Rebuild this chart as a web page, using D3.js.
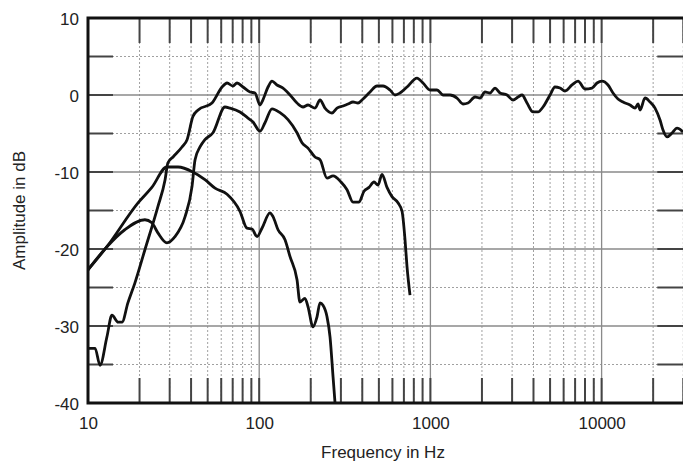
<!DOCTYPE html>
<html>
<head>
<meta charset="utf-8">
<script src="https://cdn.jsdelivr.net/npm/d3@7"></script>
<style>
  body { margin: 0; background: #fff; }
  text { font-family: "Liberation Sans", Arial, Helvetica, sans-serif; }
</style>
</head>
<body>
<div id="chart"></div>
<script>
// frequency (Hz) and amplitude (dB)
var completeFreq = [10, 11, 11.75, 12.9, 13.8, 15, 15.8, 17.1, 18.8, 21.5, 25.6, 28.2, 29.3, 31.4, 35.4, 37.9, 41, 44, 53, 60.7, 64.9, 70.2,
    74.2, 80.4, 88.4, 94.5, 101, 105, 112.6, 118.8, 127, 137.7, 151.4, 166.3, 180.3, 192.8, 211.8, 226.6, 242.3, 266.2, 284.7, 308.7, 330.1,
    353.1, 377.7, 403.9, 444, 487.6, 528.6, 580.7, 621.1, 664.3, 730, 835, 905, 995, 1093, 1185, 1302, 1430, 1550, 1658, 1822, 1949,
    2084, 2229, 2384, 2550, 2802, 3038, 3249, 3428, 3667, 3975, 4252, 4547, 4995, 5342, 5715, 6112, 6715, 7280, 7998, 8787, 9399,
    10053, 10899, 11656, 12466, 13335, 14656, 15674, 16318, 16763, 17930, 19176, 20510, 21937, 22840, 24100, 25780, 27570, 29890];
var completeDb = [-32.9, -32.9, -35.1, -31.4, -28.6, -29.5, -29.5, -27, -24.4, -20.1, -14.5, -11, -8.8, -8.05, -6.75, -5.8, -2.8, -1.95, -1.04, 1.04, 1.56, 1.17,
    1.56, 1.04, 0.39, 0.26, -1.3, -0.65, 1.04, 1.8, 1.3, 0.9, 0, -1.04, -1.56, -1.3, -1.7, -0.65, -1.7, -2.34, -1.7, -1.43, -1.17,
    -0.91, -1.04, -0.52, 0.39, 1.17, 1.17, 0.65, 0, 0.26, 1.04, 2.2, 1.56, 0.65, 0.65, 0, 0, -0.39, -1.17, -1.04, -0.26, -0.39,
    0.39, 0.26, 0.9, 0.26, 0, -0.65, -0.26, 0, -1.04, -2.2, -2.2, -1.56, 0, 1.04, 0.9, 0.52, 1.3, 1.8, 0.78, 0.9, 1.56,
    1.8, 1.3, 0.26, -0.52, -0.91, -1.3, -1.7, -1.17, -1.95, -0.39, -0.91, -1.7, -3.25, -4.55, -5.45, -4.94, -4.3, -4.8];

var wooferFreq = [10, 12.9, 16.4, 21.5, 23.6, 25.6, 28.9, 32.2, 36.9, 40.5, 42.2, 45.1, 48.2, 53.7, 63.1, 67.5, 77.2, 86, 92, 101.1, 108.1,
    118.8, 132.3, 147.3, 166.3, 177.8, 192.8, 211.8, 226.6, 248.9, 270, 300.5, 325.8, 353.1, 382.7, 409.4, 437.9, 468.5, 494.3, 521.5,
    557.8, 596.6, 646.4, 682.6, 710.8, 730, 760];
var wooferDb = [-22.7, -19.7, -17.5, -16.2, -16.6, -17.9, -19.2, -18.4, -15.8, -11.9, -8.4, -6.75, -5.8, -4.9, -1.56, -1.7, -2.2, -3, -3.5, -4.7, -3.6,
    -1.8, -2.3, -3.2, -4.9, -6.2, -6.9, -8.05, -8.4, -10.8, -10.5, -11.3, -12.3, -13.9, -13.9, -12.5, -12, -11.3, -11.7, -10.3,
    -12, -13.2, -14, -15.1, -18.8, -22.3, -26];

var portFreq = [10, 12.9, 19.6, 23.6, 28.9, 33.6, 41, 48.2, 55.2, 64.9, 77.2, 84.9, 90.8, 97.1, 103.8, 115.6, 120.4, 128.8, 141.5, 151.4,
    166.3, 173, 185, 192.8, 206, 217.6, 226.6, 235.8, 248.9, 259.2, 270, 277.3];
var portDb = [-22.7, -19.7, -14, -12, -9.35, -9.35, -10, -11, -12.1, -12.9, -15.1, -17.3, -17.4, -18.4, -17.3, -15.3, -15.8, -17.5, -18.8, -21,
    -24, -26.9, -26.4, -27.5, -30.1, -28.8, -27, -27.3, -28.8, -31.4, -36.6, -40];

var xLabels = [10, 100, 1000, 10000];
var yLabels = [10, 0, -10, -20, -30, -40];
var decades = [10, 100, 1000, 10000];
var mults = [2, 3, 4, 5, 6, 7, 8, 9];

function init() {
    var w = 683;
    var h = 468;
    var left = 88, top = 18, bottom = 403;

    var x = d3.scaleLog().domain([10, 30000]).range([left, 683.3]);
    var y = d3.scaleLinear().domain([-40, 10]).range([bottom, top]);
    var right = x(30000);

    var svg = d3.select("#chart")
        .append("svg")
        .attr("width", w)
        .attr("height", h);

    // minor frequency positions
    var minor = [];
    decades.forEach(function(d) {
        mults.forEach(function(m) {
            if (d * m <= 30000) minor.push(d * m);
        });
    });
    var allTicks = minor.concat([100, 1000, 10000]);

    var grid = svg.append("g");
    // dotted lines
    grid.selectAll(".vmin")
        .data(minor)
        .enter()
        .append("line")
        .attr("x1", function(d) { return x(d); })
        .attr("x2", function(d) { return x(d); })
        .attr("y1", top)
        .attr("y2", bottom)
        .attr("stroke", "#a0a0a0")
        .attr("stroke-width", 1)
        .attr("stroke-dasharray", "2,2");

    var halfSteps = d3.range(-35, 10, 10);
    grid.selectAll(".hmin")
        .data(halfSteps)
        .enter()
        .append("line")
        .attr("x1", left)
        .attr("x2", right)
        .attr("y1", function(d) { return y(d); })
        .attr("y2", function(d) { return y(d); })
        .attr("stroke", "#a0a0a0")
        .attr("stroke-width", 1)
        .attr("stroke-dasharray", "2,2");

    // solid lines
    grid.selectAll(".vmaj")
        .data([100, 1000, 10000])
        .enter()
        .append("line")
        .attr("x1", function(d) { return x(d); })
        .attr("x2", function(d) { return x(d); })
        .attr("y1", top)
        .attr("y2", bottom)
        .attr("stroke", "#8a8a8a")
        .attr("stroke-width", 1.3);

    grid.selectAll(".hmaj")
        .data([0, -10, -20, -30])
        .enter()
        .append("line")
        .attr("x1", left)
        .attr("x2", right)
        .attr("y1", function(d) { return y(d); })
        .attr("y2", function(d) { return y(d); })
        .attr("stroke", "#8a8a8a")
        .attr("stroke-width", 1.3);

    // tick marks top and bottom
    grid.selectAll(".ttop")
        .data(allTicks)
        .enter()
        .append("line")
        .attr("x1", function(d) { return x(d); })
        .attr("x2", function(d) { return x(d); })
        .attr("y1", top)
        .attr("y2", top + 25)
        .attr("stroke", "#444")
        .attr("stroke-width", 2);
    grid.selectAll(".tbot")
        .data(allTicks)
        .enter()
        .append("line")
        .attr("x1", function(d) { return x(d); })
        .attr("x2", function(d) { return x(d); })
        .attr("y1", bottom - 25)
        .attr("y2", bottom)
        .attr("stroke", "#444")
        .attr("stroke-width", 2);

    // tick marks left and right
    var yTicks = d3.range(-35, 10, 5);
    grid.selectAll(".tl")
        .data(yTicks)
        .enter()
        .append("line")
        .attr("x1", left)
        .attr("x2", left + 25)
        .attr("y1", function(d) { return y(d); })
        .attr("y2", function(d) { return y(d); })
        .attr("stroke", "#444")
        .attr("stroke-width", 2);
    grid.selectAll(".tr")
        .data(yTicks)
        .enter()
        .append("line")
        .attr("x1", right - 26)
        .attr("x2", right)
        .attr("y1", function(d) { return y(d); })
        .attr("y2", function(d) { return y(d); })
        .attr("stroke", "#444")
        .attr("stroke-width", 2);

    // curves
    svg.append("clipPath")
        .attr("id", "clip")
        .append("rect")
        .attr("x", left)
        .attr("y", top)
        .attr("width", right - left)
        .attr("height", bottom - top);

    var line = d3.line()
        .x(function(d) { return x(d[0]); })
        .y(function(d) { return y(d[1]); })
        .curve(d3.curveMonotoneX);

    var series = [
        d3.zip(portFreq, portDb),
        d3.zip(wooferFreq, wooferDb),
        d3.zip(completeFreq, completeDb)
    ];

    svg.append("g")
        .attr("clip-path", "url(#clip)")
        .selectAll("path")
        .data(series)
        .enter()
        .append("path")
        .attr("d", line)
        .attr("fill", "none")
        .attr("stroke", "#111")
        .attr("stroke-width", 2.8)
        .attr("stroke-linejoin", "round");

    // frame
    svg.append("path")
        .attr("d", "M" + (right + 2) + "," + top + "H" + left + "V" + bottom + "H" + (right + 2))
        .attr("fill", "none")
        .attr("stroke", "#111")
        .attr("stroke-width", 3);

    // axis labels (plain hyphen for negatives, as in the original)
    var plain = function(d) { return String(d); };

    var xAxis = d3.axisBottom(x)
        .tickValues(xLabels)
        .tickFormat(plain)
        .tickSize(0)
        .tickPadding(0);
    var gx = svg.append("g")
        .attr("transform", "translate(0," + (bottom + 14) + ")")
        .call(xAxis);
    gx.select(".domain").remove();
    gx.selectAll("text")
        .attr("font-size", 17)
        .attr("font-family", "Liberation Sans, Arial, sans-serif")
        .attr("fill", "#222");

    var yAxis = d3.axisLeft(y)
        .tickValues(yLabels)
        .tickFormat(plain)
        .tickSize(0)
        .tickPadding(0);
    var gy = svg.append("g")
        .attr("transform", "translate(" + (left - 9) + ",0)")
        .call(yAxis);
    gy.select(".domain").remove();
    gy.selectAll("text")
        .attr("font-size", 17)
        .attr("font-family", "Liberation Sans, Arial, sans-serif")
        .attr("fill", "#222")
        .attr("dy", "0.4em");

    svg.append("text")
        .text("Frequency in Hz")
        .attr("x", 383)
        .attr("y", 458)
        .attr("text-anchor", "middle")
        .attr("font-size", 17)
        .attr("fill", "#222");

    svg.append("text")
        .text("Amplitude in dB")
        .attr("transform", "translate(25," + ((top + bottom) / 2) + ") rotate(-90)")
        .attr("text-anchor", "middle")
        .attr("font-size", 17)
        .attr("fill", "#222");
}
window.onload = init;
</script>
</body>
</html>
